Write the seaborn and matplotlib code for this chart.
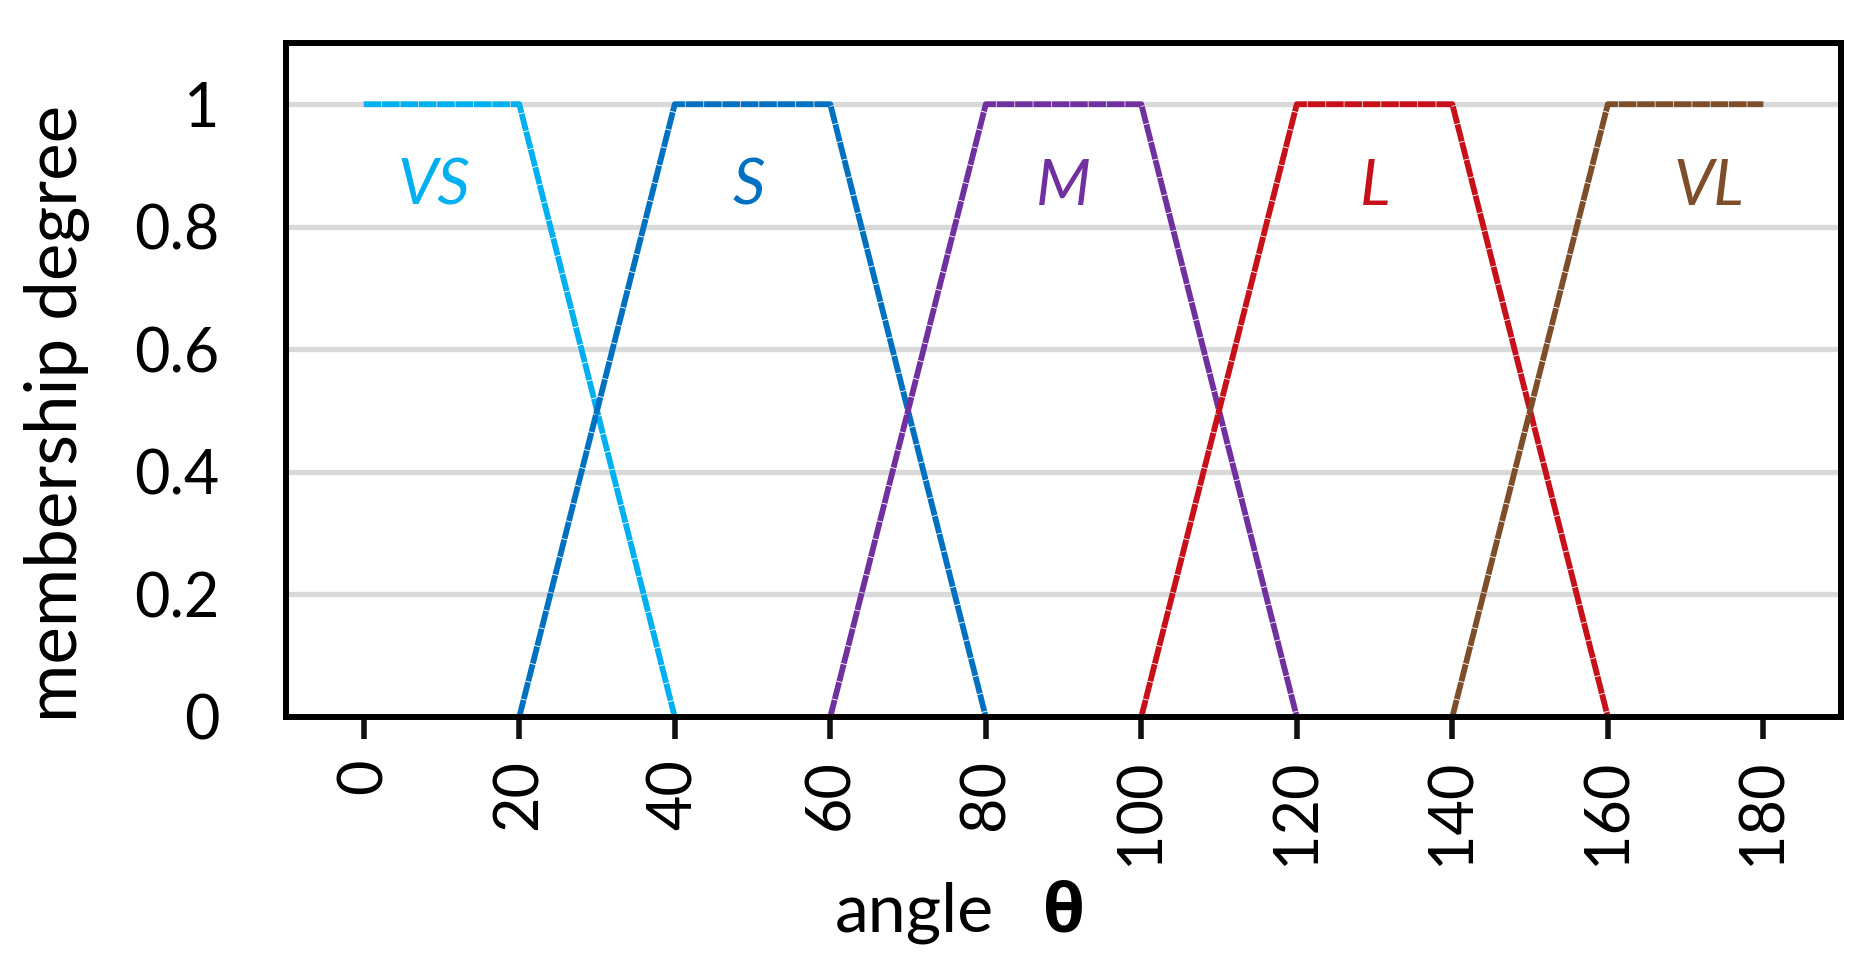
import matplotlib
matplotlib.use("Agg")
import matplotlib.pyplot as plt
import pandas as pd
import seaborn as sns

# membership functions (angle -> degree)
sets = ["VS", "S", "M", "L", "VL"]
vs_x = [0, 20, 40]
vs_y = [1, 1, 0]
s_x = [20, 40, 60, 80]
s_y = [0, 1, 1, 0]
m_x = [60, 80, 100, 120]
m_y = [0, 1, 1, 0]
l_x = [100, 120, 140, 160]
l_y = [0, 1, 1, 0]
vl_x = [140, 160, 180]
vl_y = [0, 1, 1]
colors = ["#00B0F0", "#0070C0", "#7030A0", "#C8101A", "#7E4E2A"]
label_x = [9, 49.5, 90, 130, 173]
label_y = 0.865
x_ticks = [0, 20, 40, 60, 80, 100, 120, 140, 160, 180]
y_ticks = [0, 0.2, 0.4, 0.6, 0.8, 1]

frames = []
for name, xs, ys in zip(sets, [vs_x, s_x, m_x, l_x, vl_x], [vs_y, s_y, m_y, l_y, vl_y]):
    frames.append(pd.DataFrame({"angle": xs, "degree": ys, "set": name}))
df = pd.concat(frames, ignore_index=True)

sns.set_theme(style="white")
plt.rcParams["font.family"] = ["Lato", "DejaVu Sans"]
plt.rcParams["text.color"] = "black"
plt.rcParams["axes.labelcolor"] = "black"
plt.rcParams["xtick.color"] = "black"
plt.rcParams["ytick.color"] = "black"
FS = 44

fig = plt.figure(figsize=(18.68, 9.74), dpi=100)
ax = fig.add_axes([0.1531, 0.2639, 0.8325, 0.692])

ax.grid(axis="y", color="#D9D9D9", linewidth=3.8, zorder=0)
ax.set_axisbelow(True)

sns.lineplot(data=df, x="angle", y="degree", hue="set", palette=dict(zip(sets, colors)),
             estimator=None, sort=False, legend=False, linewidth=4.2,
             linestyle=(0, (3, 0.15)), ax=ax)

for name, c, lx in zip(sets, colors, label_x):
    ax.text(lx, label_y, name, color=c, fontsize=FS + 2, style="italic",
            ha="center", va="center")

ax.set_xlim(-10, 190)
ax.set_ylim(0, 1.1)
ax.set_xticks(x_ticks)
ax.set_xticklabels([str(v) for v in x_ticks], rotation=90, fontsize=FS)
ax.set_yticks(y_ticks)
ax.set_yticklabels([f"{v:g}" for v in y_ticks], fontsize=FS)
ax.tick_params(axis="x", direction="out", length=16, width=4, color="#111111", pad=14, bottom=True)
ax.tick_params(axis="y", length=0, pad=48)

for sp in ax.spines.values():
    sp.set_color("black")
    sp.set_linewidth(4.3)

ax.set_xlabel("")
ax.set_ylabel("membership degree", fontsize=51)
ax.yaxis.set_label_coords(-0.126, 0.45)

fig.text(835 / 1868, 1 - 932 / 974, "angle", fontsize=FS + 5, ha="left", va="baseline")
fig.text(1043 / 1868, 1 - 932 / 974, "θ", fontsize=FS + 5, fontweight="bold",
         family=["Open Sans", "DejaVu Sans"], ha="left", va="baseline")

fig.savefig("out.png", dpi=100)
